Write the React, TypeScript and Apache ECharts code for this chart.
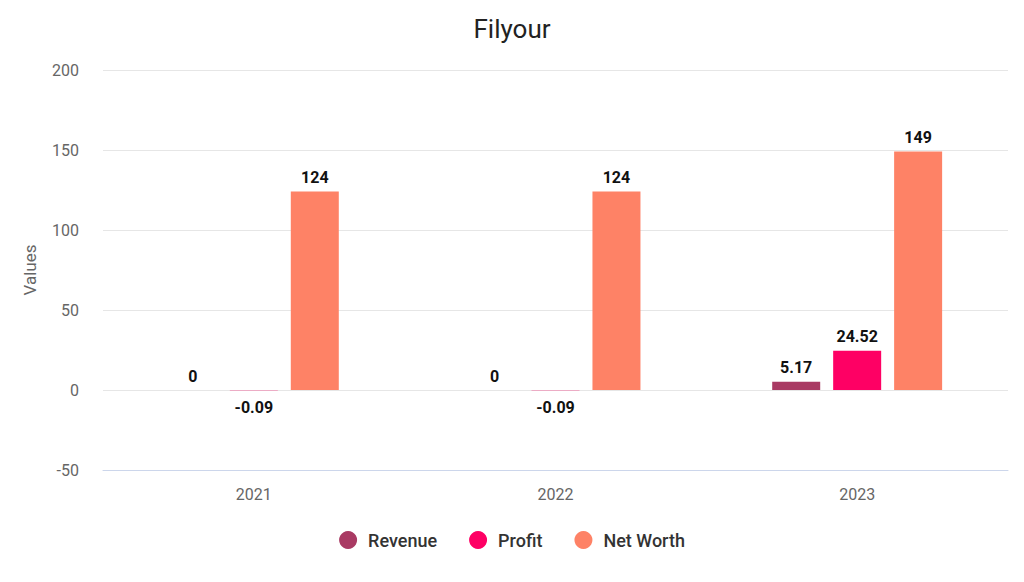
import React, { useEffect, useRef } from "react";
import * as echarts from "echarts";

const categories = ["2021", "2022", "2023"];
const revenue = [0, 0, 5.17];
const profit = [-0.09, -0.09, 24.52];
const netWorth = [124, 124, 149];
const seriesNames = ["Revenue", "Profit", "Net Worth"];
const colors = ["#a93a63", "#fe0064", "#fe8266"];

function makeData(vals: number[]) {
  return vals.map((v) => ({
    value: v,
    label: v < 0 ? { position: "bottom", distance: 9 } : { position: "top", distance: 6 },
  }));
}

export default function App() {
  const ref = useRef<HTMLDivElement>(null);
  useEffect(() => {
    if (!ref.current) return;
    const chart = echarts.init(ref.current, undefined, { renderer: "svg" });
    const label = {
      show: true,
      color: "#111",
      fontSize: 16,
      fontWeight: "bold",
      fontFamily: "Roboto",
    };
    const all = [revenue, profit, netWorth];
    chart.setOption({
      animation: false,
      textStyle: { fontFamily: "Roboto" },
      title: {
        text: "Filyour",
        left: "center",
        top: 3,
        textStyle: { fontSize: 26, fontWeight: "normal", color: "#222", fontFamily: "Roboto" },
      },
      legend: {
        top: 518,
        left: "center",
        icon: "circle",
        itemWidth: 18,
        itemHeight: 18,
        itemGap: 32,
        textStyle: { fontSize: 18, fontWeight: 500, color: "#333", fontFamily: "Roboto", padding: [0, 0, 0, 6] },
        data: seriesNames,
      },
      grid: { left: 95, right: 8, top: 62, bottom: 104 },
      xAxis: {
        type: "category",
        data: categories,
        axisLine: { onZero: false, lineStyle: { color: "#ccd6eb" } },
        axisTick: { show: false },
        axisLabel: { color: "#666", fontSize: 16, margin: 16 },
      },
      yAxis: {
        type: "value",
        min: -50,
        max: 200,
        interval: 50,
        name: "Values",
        nameLocation: "middle",
        nameGap: 65,
        nameTextStyle: { color: "#666", fontSize: 17 },
        axisLabel: { color: "#666", fontSize: 16, margin: 24 },
        splitLine: { lineStyle: { color: "#e6e6e6" } },
        axisLine: { show: false },
        axisTick: { show: false },
      },
      series: all.map((vals, i) => ({
        name: seriesNames[i],
        type: "bar",
        data: makeData(vals),
        itemStyle: { color: colors[i] },
        barWidth: 48,
        barGap: "27%",
        label,
      })),
    });
    return () => chart.dispose();
  }, []);
  return <div ref={ref} style={{ width: 1008, height: 566 }} />;
}
